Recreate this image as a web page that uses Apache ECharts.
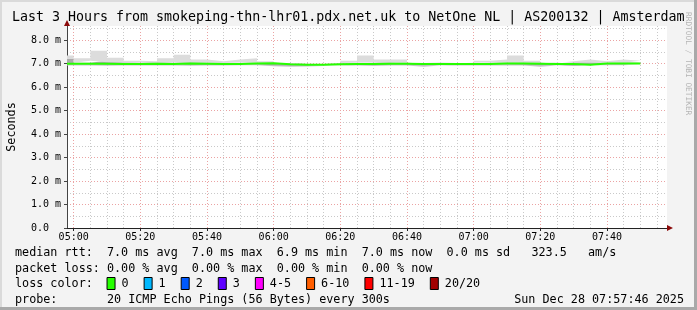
<!DOCTYPE html>
<html><head><meta charset="utf-8">
<script src="https://cdn.jsdelivr.net/npm/echarts@6/dist/echarts.min.js"></script>
<style>html,body{margin:0;padding:0;background:#f3f3f3}#c{width:697px;height:310px}</style>
</head><body><div id="c"></div><script>
// ---- chart data ----
const titleText = 'Last 3 Hours from smokeping-thn-lhr01.pdx.net.uk to NetOne NL | AS200132 | Amsterdam';
const axisStart = '04:58';
const axisEnd = '07:58';
const tickLabels = ['05:00','05:20','05:40','06:00','06:20','06:40','07:00','07:20','07:40'];
const yMax = 8.6;
// interval end times (5-minute steps)
const times = ['05:00','05:05','05:10','05:15','05:20','05:25','05:30','05:35','05:40','05:45','05:50','05:55',
  '06:00','06:05','06:10','06:15','06:20','06:25','06:30','06:35','06:40','06:45','06:50','06:55',
  '07:00','07:05','07:10','07:15','07:20','07:25','07:30','07:35','07:40','07:45','07:50'];
// values in ms
const median = [6.99,6.99,6.99,6.98,6.98,6.99,6.98,7.00,6.99,6.98,6.98,7.00,7.01,6.97,6.95,6.95,6.97,6.98,6.98,6.99,6.99,6.98,6.98,6.98,6.98,6.98,7.00,7.00,6.99,6.98,6.98,6.95,7.00,7.00,7.00];
const smokeMax = [7.34,7.23,7.55,7.25,7.12,7.10,7.23,7.38,7.17,7.10,7.17,7.23,7.10,7.01,6.99,7.00,7.01,7.12,7.34,7.17,7.17,7.02,7.05,7.02,7.02,7.12,7.17,7.34,7.12,7.02,7.10,7.17,7.10,7.17,7.12];
const smokeHigh = [7.20,7.04,7.12,7.06,7.04,7.06,7.04,7.06,7.05,7.04,7.03,7.05,7.04,7.00,6.98,6.98,7.00,7.03,7.04,7.06,7.04,7.00,7.03,7.00,7.01,7.04,7.05,7.05,7.04,7.00,7.05,7.06,7.04,7.05,7.04];
const smokeLow = [6.95,6.96,6.96,6.95,6.95,6.96,6.95,6.96,6.95,6.95,6.95,6.97,6.97,6.93,6.91,6.91,6.93,6.95,6.95,6.94,6.95,6.95,6.93,6.95,6.95,6.95,6.96,6.96,6.95,6.93,6.95,6.92,6.96,6.96,6.96];
const smokeMin = [6.92,6.92,6.92,6.91,6.92,6.92,6.92,6.92,6.91,6.92,6.92,6.93,6.93,6.89,6.86,6.88,6.90,6.92,6.92,6.90,6.92,6.92,6.86,6.92,6.92,6.92,6.92,6.92,6.92,6.86,6.92,6.90,6.93,6.93,6.93];
const statRows = [
  'median rtt:  7.0 ms avg  7.0 ms max  6.9 ms min  7.0 ms now  0.0 ms sd   323.5   am/s',
  'packet loss: 0.00 % avg  0.00 % max  0.00 % min  0.00 % now'
];
const lossTitle = 'loss color:';
const lossLabels = ['0','1','2','3','4-5','6-10','11-19','20/20'];
const lossColors = ['#26ff00','#00b8ff','#0059ff','#5e00ff','#ff00fe','#ff5e00','#ff0000','#a10000'];
const probeText = 'probe:       20 ICMP Echo Pings (56 Bytes) every 300s';
const dateText = 'Sun Dec 28 07:57:46 2025';
const watermark = 'RRDTOOL / TOBI OETIKER';

// ---- build ----
const MONO = '"DejaVu Sans Mono", monospace';
const minuteOf = s => { const p = s.split(':').map(Number); return p[0]*60 + p[1]; };
const fmt = t => String(Math.floor(t/60)).padStart(2,'0') + ':' + String(t%60).padStart(2,'0');
const cats = [];
for (let t = minuteOf(axisStart); t <= minuteOf(axisEnd); t++) cats.push(fmt(t));
const ix = s => cats.indexOf(s);
// step 'start': segment before each end time carries that interval's value
function pts(vals) {
  const out = [[0, vals[0]]];
  times.forEach((t, i) => out.push([ix(t), vals[i]]));
  return out;
}
const diff = (a, b) => a.map((v, i) => +(v - b[i]).toFixed(4));

const chart = echarts.init(document.getElementById('c'), null, {renderer: 'canvas'});
const gridL = 67, gridR = 30, gridT = 26, gridB = 82;
const W = 697, H = 310;
const plotRight = W - gridR, plotBottom = H - gridB;

const graphic = [];
// frame
graphic.push({type:'rect', shape:{x:0,y:0,width:W,height:2}, style:{fill:'#dadada'}, silent:true});
graphic.push({type:'rect', shape:{x:0,y:0,width:2,height:H}, style:{fill:'#dadada'}, silent:true});
graphic.push({type:'rect', shape:{x:W-3,y:0,width:3,height:H}, style:{fill:'#a9a9a9'}, silent:true});
graphic.push({type:'rect', shape:{x:0,y:H-3,width:W,height:3}, style:{fill:'#a9a9a9'}, silent:true});
// title
graphic.push({type:'text', x:12, y:18, style:{text:titleText, font:'13.3px ' + MONO, fill:'#000', verticalAlign:'middle', textVerticalAlign:'middle'}, silent:true});
// watermark
graphic.push({type:'text', x:688, y:12, rotation:-Math.PI/2, style:{text:watermark, font:'7.8px ' + MONO, fill:'#b4b4b4', verticalAlign:'middle', textVerticalAlign:'middle'}, silent:true});
// arrows
graphic.push({type:'polygon', shape:{points:[[plotRight, plotBottom-3],[plotRight+6, plotBottom],[plotRight, plotBottom+3]]}, style:{fill:'#8b0a0a'}, silent:true, z:100});
graphic.push({type:'polygon', shape:{points:[[gridL-3, gridT],[gridL, gridT-6],[gridL+3, gridT]]}, style:{fill:'#8b0a0a'}, silent:true, z:100});
// stats text
const CW = 7.08, LX = 15, rowY = [253, 268.5, 284, 300];
statRows.forEach((s, i) => graphic.push({type:'text', x:LX, y:rowY[i], style:{text:s, font:'11.75px ' + MONO, fill:'#000', verticalAlign:'middle', textVerticalAlign:'middle'}, silent:true}));
graphic.push({type:'text', x:LX, y:rowY[2], style:{text:lossTitle, font:'11.75px ' + MONO, fill:'#000', verticalAlign:'middle', textVerticalAlign:'middle'}, silent:true});
let bx = LX + 13*CW - 0.5;
lossLabels.forEach((lab, i) => {
  graphic.push({type:'rect', shape:{x:bx+0.5, y:rowY[2]-6.5, width:8, height:12}, style:{fill:lossColors[i], stroke:'#000', lineWidth:1}, silent:true});
  const lx = bx + 15;
  graphic.push({type:'text', x:lx, y:rowY[2], style:{text:lab, font:'11.75px ' + MONO, fill:'#000', verticalAlign:'middle', textVerticalAlign:'middle'}, silent:true});
  bx = lx + lab.length*CW + 15;
});
graphic.push({type:'text', x:LX, y:rowY[3], style:{text:probeText, font:'11.75px ' + MONO, fill:'#000', verticalAlign:'middle', textVerticalAlign:'middle'}, silent:true});
graphic.push({type:'text', x:684, y:rowY[3], style:{text:dateText, font:'11.75px ' + MONO, fill:'#000', align:'right', textAlign:'right', verticalAlign:'middle', textVerticalAlign:'middle'}, silent:true});

const isMajor = v => minuteOf(v) % 20 === 0;
const isMinor = v => minuteOf(v) % 5 === 0 && !isMajor(v);

const smokeBase = {type:'line', stack:'smoke', step:'start', symbol:'none', silent:true, lineStyle:{width:0, opacity:0}};
const option = {
  animation: false,
  backgroundColor: '#f3f3f3',
  grid: {left:gridL, right:gridR, top:gridT, bottom:gridB, show:true, backgroundColor:'#ffffff', borderWidth:0,
    containLabel:false, outerBoundsMode:'none'},
  xAxis: [{
    type:'category', data:cats, boundaryGap:false,
    axisLine:{show:true, lineStyle:{color:'#222', width:1}},
    axisTick:{show:true, length:3, interval:(i, v) => isMajor(v), lineStyle:{color:'#222'}},
    axisLabel:{interval:(i, v) => tickLabels.includes(v), margin:4, color:'#000', fontFamily:MONO, fontSize:10},
    splitLine:{show:true, interval:(i, v) => isMinor(v), lineStyle:{color:'#c9c9c9', type:[1,2], width:1}}
  }, {
    type:'category', data:cats, boundaryGap:false, position:'bottom',
    axisLine:{show:false}, axisTick:{show:false}, axisLabel:{show:false},
    splitLine:{show:true, interval:(i, v) => isMajor(v), lineStyle:{color:'#eba3a3', type:[1,2], width:1}}
  }],
  yAxis: {
    type:'value', min:0, max:yMax, interval:1,
    name:'Seconds', nameLocation:'middle', nameGap:49, nameRotate:90,
    nameTextStyle:{fontFamily:MONO, fontSize:11.75, color:'#000'},
    axisLine:{show:true, lineStyle:{color:'#444', width:1}},
    axisTick:{show:true, length:3, lineStyle:{color:'#444'}},
    axisLabel:{showMaxLabel:false, margin:6, color:'#000', fontFamily:MONO, fontSize:10,
      formatter: v => Number.isInteger(v) ? (v === 0 ? '0.0  ' : v.toFixed(1) + ' m') : ''},
    splitLine:{show:true, showMaxLine:false, lineStyle:{color:'#eba3a3', type:[1,2], width:1}},
    minorTick:{show:false, splitNumber:2},
    minorSplitLine:{show:true, lineStyle:{color:'#c9c9c9', type:[1,2], width:1}}
  },
  series: [
    Object.assign({}, smokeBase, {name:'min', data:pts(smokeMin)}),
    Object.assign({}, smokeBase, {name:'low', data:pts(diff(smokeLow, smokeMin)), areaStyle:{color:'#c6c6c6', opacity:1}}),
    Object.assign({}, smokeBase, {name:'mid', data:pts(diff(smokeHigh, smokeLow)), areaStyle:{color:'#ababab', opacity:1}}),
    Object.assign({}, smokeBase, {name:'high', data:pts(diff(smokeMax, smokeHigh)), areaStyle:{color:'#dcdcdc', opacity:1}}),
    {type:'line', name:'median', step:'start', symbol:'none', silent:true, z:5, data:pts(median), lineStyle:{color:'#26ff00', width:2}}
  ],
  graphic: graphic
};
chart.setOption(option);
</script></body></html>
